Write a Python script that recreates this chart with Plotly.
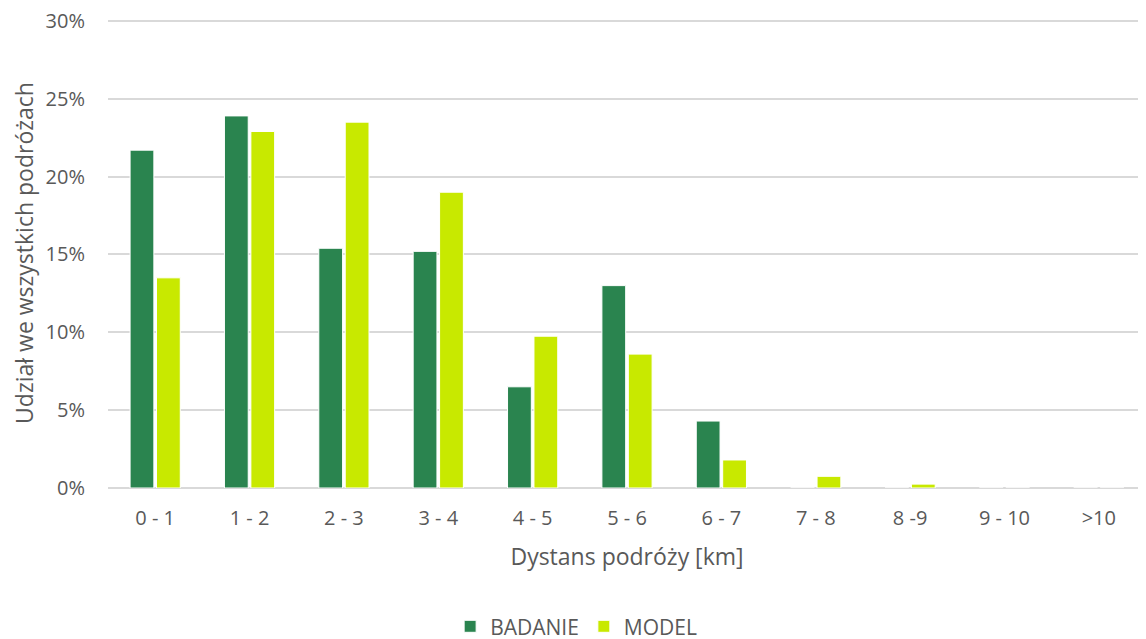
import plotly.graph_objs as go

categories = ["0 - 1", "1 - 2", "2 - 3", "3 - 4", "4 - 5", "5 - 6", "6 - 7", "7 - 8", "8 -9", "9 - 10", ">10"]
badanie = [21.7, 23.9, 15.4, 15.2, 6.5, 13.0, 4.3, 0.0, 0.0, 0.0, 0.0]
model = [13.5, 22.9, 23.5, 19.0, 9.75, 8.6, 1.8, 0.75, 0.25, 0.0, 0.0]
y_ticks = [0, 5, 10, 15, 20, 25, 30]

font_color = "#595959"

fig = go.Figure()
fig.add_trace(go.Bar(
    x=categories, y=badanie, name="BADANIE",
    marker=dict(color="#2A844F", line=dict(color="white", width=1))
))
fig.add_trace(go.Bar(
    x=categories, y=model, name="MODEL",
    marker=dict(color="#C8E900", line=dict(color="white", width=1))
))

# la page a une marge de 8px : on compense dans les marges
fig.update_layout(
    width=1138, height=631,
    barmode="group",
    bargap=0.44,
    bargroupgap=0.1,
    plot_bgcolor="white",
    paper_bgcolor="white",
    font=dict(family="Open Sans", size=20, color=font_color),
    margin={'l': 100, 'r': 0, 't': 10, 'b': 151, 'autoexpand': False},
    xaxis=dict(
        title=dict(text="Dystans podróży [km]", font=dict(size=23), standoff=18),
        showgrid=False, showline=False, ticks="",
        ticklabelstandoff=16,
        tickfont=dict(size=20, color=font_color),
    ),
    yaxis=dict(
        title=dict(text="Udział we wszystkich podróżach", font=dict(size=23), standoff=17),
        range=[0, 30.19],
        tickvals=y_ticks, ticktext=[f"{v}%" for v in y_ticks],
        showgrid=True, gridcolor="#D9D9D9", gridwidth=1.5,
        zeroline=True, zerolinecolor="#D9D9D9", zerolinewidth=1.5,
        ticklabelstandoff=22, ticklabeloverflow="allow",
        tickfont=dict(size=20, color=font_color),
    ),
    legend=dict(
        orientation="h", x=0.451, xanchor="center", y=-0.295, yanchor="middle",
        font=dict(size=21, color=font_color),
    ),
    showlegend=True,
)

fig.write_html("out.html")
